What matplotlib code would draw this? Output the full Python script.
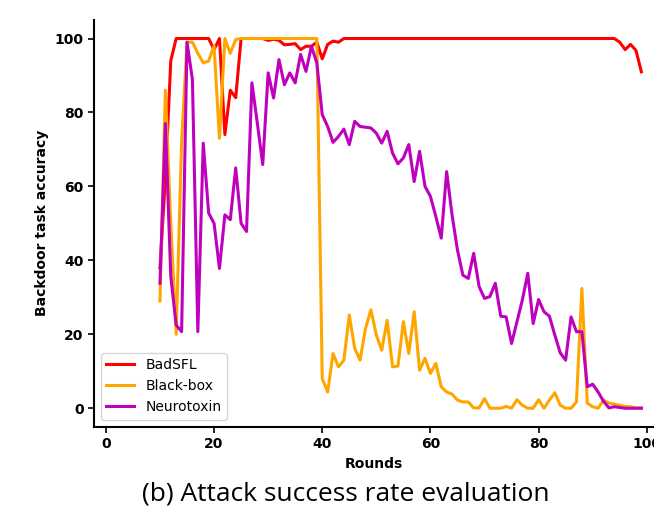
import matplotlib
matplotlib.use("Agg")
import matplotlib.pyplot as plt

# Rounds 10..99
rounds = list(range(10, 100))

badsfl = [38, 62, 94, 100, 100, 100, 100, 100, 100, 100,
          97, 100, 74, 86, 84, 100, 100, 100, 100, 100,
          99.5, 99.8, 99.5, 98.3, 98.4, 98.6, 97, 97.9, 97.9, 99,
          94.5, 98.4, 99.3, 99, 100, 100, 100, 100, 100, 100,
          100, 100, 100, 100, 100, 100, 100, 100, 100, 100,
          100, 100, 100, 100, 100, 100, 100, 100, 100, 100,
          100, 100, 100, 100, 100, 100, 100, 100, 100, 100,
          100, 100, 100, 100, 100, 100, 100, 100, 100, 100,
          100, 100, 100, 100, 100, 99, 97, 98.4, 96.8, 91]

blackbox = [29, 86, 50, 20, 72, 99, 99, 96, 93.4, 93.9,
            98, 73, 100, 96, 99.7, 100, 100, 100, 100, 100,
            100, 100, 100, 100, 100, 100, 100, 100, 100, 100,
            8, 4.4, 14.8, 11.2, 13, 25.2, 16.2, 13, 21.6, 26.6,
            19.8, 15.7, 23.8, 11.2, 11.4, 23.4, 14.8, 26.1, 10.3, 13.5,
            9.4, 12.1, 5.8, 4.4, 3.8, 2.2, 1.7, 1.7, 0.1, 0.1,
            2.6, 0, 0, 0, 0.5, 0, 2.3, 0.8, 0, 0,
            2.3, 0, 2.2, 4.2, 0.8, 0, 0, 1.7, 32.4, 1.4,
            0.4, 0, 2.2, 1.4, 1.1, 0.8, 0.5, 0.4, 0.1, 0.1]

neurotoxin = [33.8, 77, 35.6, 22.5, 20.7, 99, 88.9, 20.7, 71.7, 52.8,
              50, 37.8, 52.3, 51, 65, 50, 47.8, 88, 77.1, 65.9,
              90.7, 83.9, 94.3, 87.5, 90.7, 88, 95.7, 91.1, 97.9, 93.4,
              79.4, 76.2, 71.9, 73.5, 75.5, 71.3, 77.6, 76.2, 76, 75.8,
              74.4, 71.7, 74.9, 69, 66.1, 67.7, 71.3, 61.3, 69.5, 60,
              57.3, 51.9, 46, 64, 52.3, 42.8, 36, 35.1, 41.9, 32.9,
              29.7, 30.2, 33.8, 24.9, 24.7, 17.5, 23.4, 29.3, 36.5, 22.9,
              29.4, 26.1, 24.9, 19.8, 15, 13, 24.7, 20.7, 20.7, 5.8,
              6.5, 4.4, 1.9, 0.1, 0.4, 0.2, 0, 0, 0, 0]

fig = plt.figure(figsize=(6.54, 5.08), dpi=100)
ax = fig.add_axes([0.1437, 0.160, 0.856, 0.8006])

ax.plot(rounds, badsfl, color="red", lw=2.2, label="BadSFL")
ax.plot(rounds, blackbox, color="orange", lw=2.2, label="Black-box")
ax.plot(rounds, neurotoxin, color="m", lw=2.2, label="Neurotoxin")

ax.set_xlim(-2.2, 101.3)
ax.set_ylim(-5, 105)
ax.set_xticks([0, 20, 40, 60, 80, 100])
ax.set_yticks([0, 20, 40, 60, 80, 100])

for s in ["top", "right"]:
    ax.spines[s].set_visible(False)
for s in ["left", "bottom"]:
    ax.spines[s].set_linewidth(1.5)

ax.tick_params(width=1.2, length=4, labelsize=10)
for lbl in ax.get_xticklabels() + ax.get_yticklabels():
    lbl.set_fontweight("bold")

ax.set_xlabel("Rounds", fontweight="bold", fontsize=10)
ax.set_ylabel("Backdoor task accuracy", fontweight="bold", fontsize=10)

ax.legend(loc="lower left", fontsize=10)

# caption under the plot
fig.text(0.528, 0.028, "(b) Attack success rate evaluation", ha="center",
         va="center", fontsize=19, family="Open Sans")

plt.savefig("out.png")
